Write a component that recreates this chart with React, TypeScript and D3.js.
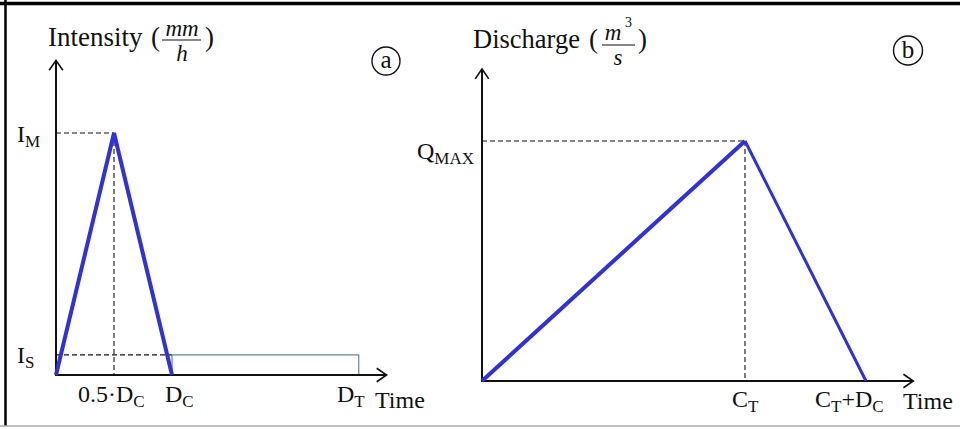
import React from "react";
import * as d3 from "d3";

// panel (a): design storm hyetograph, in units of D_C and I_M
const stormTimes = [0, 0.5, 1];
const stormIntensity = [0, 1, 0];
const baseIntensity = 0.083; // I_S
const totalDuration = 2.61; // D_T
const axisEndA = { t: 2.85, i: 1.3 };

// panel (b): triangular hydrograph, in units of C_T and Q_MAX
const flowTimes = [0, 1, 1.46];
const flowValues = [0, 1, 0];
const axisEndB = { t: 1.64, q: 1.3 };

const BLUE = "#3030dc";
const INK = "#111";
const FONT = "'Liberation Serif', 'Times New Roman', serif";
const LABEL = 24;
const SUB = 17;

const xA = d3.scaleLinear().domain([0, 1]).range([56, 172]);
const yA = d3.scaleLinear().domain([0, 1]).range([375, 133]);
const xB = d3.scaleLinear().domain([0, 1]).range([482, 745]);
const yB = d3.scaleLinear().domain([0, 1]).range([381, 141]);

const Arrow = ({ x1, y1, x2, y2 }: { x1: number; y1: number; x2: number; y2: number }) => {
  const ang = Math.atan2(y2 - y1, x2 - x1);
  const len = 12;
  const spread = 0.6;
  const a1 = [x2 - len * Math.cos(ang - spread), y2 - len * Math.sin(ang - spread)];
  const a2 = [x2 - len * Math.cos(ang + spread), y2 - len * Math.sin(ang + spread)];
  return (
    <g stroke={INK} strokeWidth={1.6} fill="none">
      <line x1={x1} y1={y1} x2={x2} y2={y2} strokeWidth={2} />
      <polyline points={`${a1[0]},${a1[1]} ${x2},${y2} ${a2[0]},${a2[1]}`} />
    </g>
  );
};

// label with a subscript, e.g. I_M
const Sub = ({ x, y, main, sub }: { x: number; y: number; main: string; sub: string }) => (
  <text x={x} y={y} fontSize={LABEL} fill={INK}>
    {main}
    <tspan fontSize={SUB} dy={5}>{sub}</tspan>
  </text>
);

const dash = { stroke: INK, strokeWidth: 1.1, strokeDasharray: "5,3", fill: "none" };

export default function App() {
  const stormLine = d3.line<number>()
    .x((d) => xA(d))
    .y((_, i) => yA(stormIntensity[i]))(stormTimes) as string;
  const flowLine = (i0: number, i1: number) =>
    d3.line<number>()
      .x((d) => xB(d))
      .y((_, i) => yB(flowValues[i0 + i]))(flowTimes.slice(i0, i1 + 1)) as string;

  const peakA = { x: xA(stormTimes[1]), y: yA(stormIntensity[1]) };
  const peakB = { x: xB(flowTimes[1]), y: yB(flowValues[1]) };

  return (
    <svg width={960} height={429} style={{ position: "absolute", left: 0, top: 0, fontFamily: FONT }}>
      <rect x={0} y={0} width={960} height={429} fill="#fff" />
      {/* frame */}
      <line x1={0} y1={3.5} x2={960} y2={3.5} stroke="#000" strokeWidth={3.5} />
      <line x1={5.5} y1={0} x2={5.5} y2={426} stroke="#000" strokeWidth={2.5} />
      <line x1={0} y1={426} x2={960} y2={426} stroke="#aaa" strokeWidth={1.5} />

      {/* ---------- panel a ---------- */}
      <text x={48} y={46} fontSize={27} fill={INK}>Intensity</text>
      <text x={151} y={46} fontSize={27} fill={INK}>(</text>
      <text x={182} y={36} fontSize={23} fontStyle="italic" textAnchor="middle" fill={INK}>mm</text>
      <line x1={162} x2={201} y1={40} y2={40} stroke={INK} strokeWidth={1.2} />
      <text x={182} y={61} fontSize={23} fontStyle="italic" textAnchor="middle" fill={INK}>h</text>
      <text x={205} y={46} fontSize={27} fill={INK}>)</text>
      <circle cx={386} cy={61} r={14} fill="none" stroke={INK} strokeWidth={1.4} />
      <text x={386} y={68} fontSize={25} textAnchor="middle" fill={INK}>a</text>

      <line x1={xA(0)} x2={peakA.x} y1={peakA.y} y2={peakA.y} {...dash} />
      <line x1={peakA.x} x2={peakA.x} y1={peakA.y} y2={yA(0)} {...dash} />
      <line x1={xA(0)} x2={xA(1)} y1={yA(baseIntensity)} y2={yA(baseIntensity)} {...dash} />
      <rect x={xA(1)} y={yA(baseIntensity)} width={xA(totalDuration) - xA(1)} height={yA(0) - yA(baseIntensity)}
        fill="none" stroke="#4a7a9a" strokeWidth={1.1} />

      <Arrow x1={xA(0)} y1={yA(0) + 1} x2={xA(0)} y2={yA(axisEndA.i)} />
      <Arrow x1={xA(0)} y1={yA(0)} x2={xA(axisEndA.t)} y2={yA(0)} />
      <path d={stormLine} fill="none" stroke={BLUE} strokeWidth={4} />

      <Sub x={17} y={142} main="I" sub="M" />
      <Sub x={17} y={363} main="I" sub="S" />
      <Sub x={78} y={402} main="0.5·D" sub="C" />
      <Sub x={165} y={402} main="D" sub="C" />
      <Sub x={337} y={402} main="D" sub="T" />
      <text x={375} y={408} fontSize={LABEL} fill={INK}>Time</text>

      {/* ---------- panel b ---------- */}
      <text x={473} y={48} fontSize={26.5} fill={INK}>Discharge</text>
      <text x={589} y={48} fontSize={27} fill={INK}>(</text>
      <text x={613} y={40} fontSize={23} fontStyle="italic" textAnchor="middle" fill={INK}>m</text>
      <text x={625} y={27} fontSize={14} fill={INK}>3</text>
      <line x1={602} x2={635} y1={45} y2={45} stroke={INK} strokeWidth={1.2} />
      <text x={618} y={65} fontSize={23} fontStyle="italic" textAnchor="middle" fill={INK}>s</text>
      <text x={638} y={48} fontSize={27} fill={INK}>)</text>
      <circle cx={908} cy={50.5} r={14.5} fill="none" stroke={INK} strokeWidth={1.4} />
      <text x={908} y={58} fontSize={25} textAnchor="middle" fill={INK}>b</text>

      <line x1={xB(0)} x2={peakB.x} y1={peakB.y} y2={peakB.y} {...dash} />
      <line x1={peakB.x} x2={peakB.x} y1={peakB.y} y2={yB(0)} {...dash} />

      <Arrow x1={xB(0)} y1={yB(0) + 1} x2={xB(0)} y2={yB(axisEndB.q)} />
      <Arrow x1={xB(0)} y1={yB(0)} x2={xB(axisEndB.t)} y2={yB(0)} />
      <path d={flowLine(0, 1)} fill="none" stroke={BLUE} strokeWidth={4} />
      <path d={flowLine(1, 2)} fill="none" stroke={BLUE} strokeWidth={3} />

      <Sub x={417} y={159} main="Q" sub="MAX" />
      <Sub x={732} y={407} main="C" sub="T" />
      <text x={815} y={407} fontSize={LABEL} fill={INK}>
        C<tspan fontSize={SUB} dy={5}>T</tspan><tspan dy={-5}>+D</tspan><tspan fontSize={SUB} dy={5}>C</tspan>
      </text>
      <text x={903} y={409} fontSize={LABEL} fill={INK}>Time</text>
    </svg>
  );
}
